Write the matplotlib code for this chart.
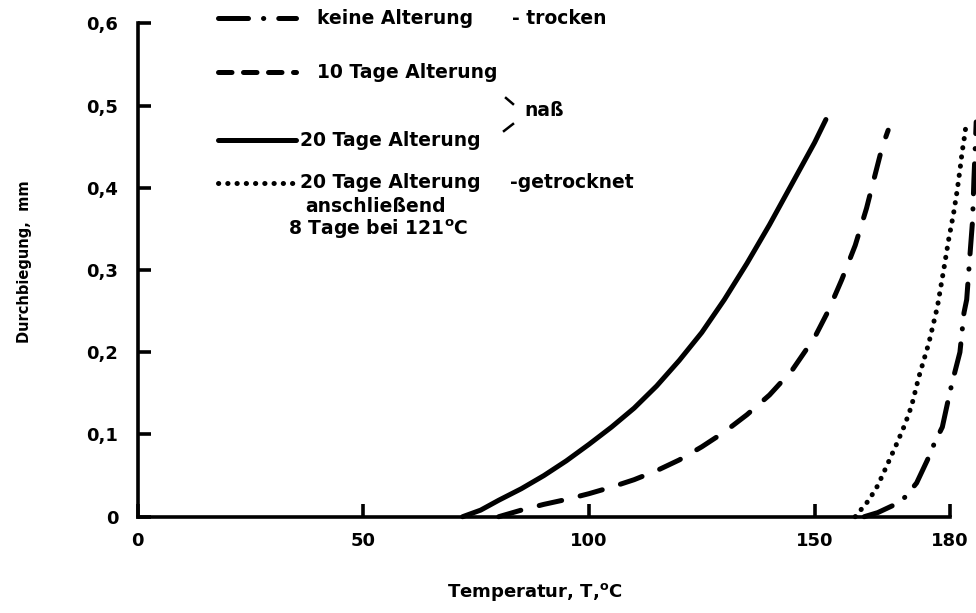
import matplotlib
matplotlib.use("Agg")
import matplotlib.pyplot as plt
from matplotlib.lines import Line2D

plt.rcParams['font.family'] = ['DejaVu Sans']
plt.rcParams['font.weight'] = 'bold'
plt.rcParams['mathtext.fontset'] = 'custom'
plt.rcParams['mathtext.rm'] = 'DejaVu Sans:bold'
plt.rcParams['mathtext.it'] = 'DejaVu Sans:bold'

# Durchbiegung (mm) ueber Temperatur (°C) fuer die vier Alterungszustaende
T_keine = [161.0, 164.0, 167.5, 170.1, 172.6, 175.0, 176.6, 178.3, 180.0, 180.8,
           182.2, 183.1, 183.7, 184.5, 185.0, 185.3, 185.6, 185.8]
d_keine = [0.000, 0.005, 0.014, 0.024, 0.041, 0.069, 0.090, 0.109, 0.152, 0.170,
           0.200, 0.248, 0.264, 0.324, 0.360, 0.410, 0.450, 0.480]

T_10tage = [80.0, 85.0, 90.0, 95.0, 100.0, 105.0, 110.0, 115.0, 120.0, 125.0, 130.0,
            135.0, 140.0, 145.0, 150.0, 153.0, 156.0, 159.0, 161.5, 163.5, 165.0, 166.3]
d_10tage = [0.000, 0.008, 0.015, 0.021, 0.028, 0.036, 0.045, 0.056, 0.069, 0.085, 0.103,
            0.124, 0.148, 0.178, 0.218, 0.250, 0.288, 0.330, 0.375, 0.418, 0.450, 0.470]

T_20tage = [72.0, 76.0, 80.0, 85.0, 90.0, 95.0, 100.0, 105.0, 110.0, 115.0, 120.0,
            125.0, 130.0, 135.0, 140.0, 145.0, 150.0, 152.5]
d_20tage = [0.000, 0.008, 0.020, 0.034, 0.050, 0.068, 0.088, 0.109, 0.132, 0.159, 0.190,
            0.224, 0.264, 0.308, 0.355, 0.405, 0.455, 0.483]

T_getrocknet = [159.0, 160.5, 162.0, 164.0, 166.0, 168.3, 170.0, 171.5, 173.1, 175.3,
                177.2, 178.6, 179.7, 180.8, 181.6, 182.3, 182.7, 183.1, 183.5]
d_getrocknet = [0.000, 0.010, 0.020, 0.038, 0.062, 0.090, 0.112, 0.135, 0.170, 0.211,
                0.255, 0.300, 0.337, 0.369, 0.397, 0.426, 0.444, 0.458, 0.474]

x_ticks = [0, 50, 100, 150, 180]
x_ticklabels = ['0', '50', '100', '150', '180']
y_ticks = [0, 0.1, 0.2, 0.3, 0.4, 0.5, 0.6]
y_ticklabels = ['0', '0,1', '0,2', '0,3', '0,4', '0,5', '0,6']

W, H = 976, 613
LW = 3.6
FS = 13.5
ST_SOLID = '-'
ST_DASH = (0, (4.6, 3.8))
ST_DASH_KEY = (0, (2.7, 2.3))
ST_DOT = (0, (0.05, 1.8))
ST_DASHDOT = (0, (6.0, 3.0, 0.05, 3.0))


def px(x, y):
    # Pixelposition -> Figurkoordinaten
    return x / W, 1 - y / H


fig = plt.figure(figsize=(W / 100, H / 100), dpi=100)
ax = fig.add_axes([137.7 / W, 1 - 516.7 / H, (950 - 137.7) / W, (516.7 - 23.3) / H])

kw = dict(color='black', lw=LW, clip_on=False, dash_capstyle='round', solid_capstyle='round')
ax.plot(T_keine, d_keine, ls=ST_DASHDOT, **kw)
ax.plot(T_10tage, d_10tage, ls=ST_DASH, **kw)
ax.plot(T_20tage, d_20tage, ls=ST_SOLID, **kw)
ax.plot(T_getrocknet, d_getrocknet, ls=ST_DOT, **kw)

ax.set_xlim(0, 180)
ax.set_ylim(0, 0.6)
for s in ['top', 'right']:
    ax.spines[s].set_visible(False)
for s in ['left', 'bottom']:
    ax.spines[s].set_linewidth(2.6)
ax.set_xticks(x_ticks)
ax.set_xticklabels(x_ticklabels)
ax.set_yticks(y_ticks)
ax.set_yticklabels(y_ticklabels)
ax.tick_params(direction='in', length=9.5, width=2.6, labelsize=13)
ax.tick_params(axis='x', pad=11)
ax.tick_params(axis='y', pad=14)

fig.text(*px(535, 592), 'Temperatur, T,$^{\\mathrm{o}}$C', ha='center', va='center', fontsize=13)
fig.text(*px(25, 262), 'Durchbiegung,  mm', ha='center', va='center', rotation=90, fontsize=10.5)

# Legende
rows = [
    (18, ST_DASHDOT, 317, 'keine Alterung'),
    (72, ST_DASH_KEY, 317, '10 Tage Alterung'),
    (140, ST_SOLID, 300, '20 Tage Alterung'),
    (183, ST_DOT, 300, '20 Tage Alterung'),
]
for y, st, tx, label in rows:
    (x0, yy), (x1, _) = px(218, y), px(296, y)
    fig.add_artist(Line2D([x0, x1], [yy, yy], ls=st, **kw))
    fig.text(*px(tx, y), label, ha='left', va='center', fontsize=FS)

fig.text(*px(512, 18), '- trocken', ha='left', va='center', fontsize=FS)
fig.text(*px(510, 183), '-getrocknet', ha='left', va='center', fontsize=FS)
fig.text(*px(305, 206), 'anschließend', ha='left', va='center', fontsize=FS)
fig.text(*px(288, 229), '8 Tage bei 121$^{\\mathrm{o}}$C', ha='left', va='center', fontsize=FS)
fig.text(*px(524, 111), 'naß', ha='left', va='center', fontsize=FS)
for (a, b), (c, d) in [((506, 98), (513, 104)), ((504, 131), (513, 124))]:
    p0, p1 = px(a, b), px(c, d)
    fig.add_artist(Line2D([p0[0], p1[0]], [p0[1], p1[1]], color='black', lw=1.8))

fig.savefig('out.png', dpi=100)
